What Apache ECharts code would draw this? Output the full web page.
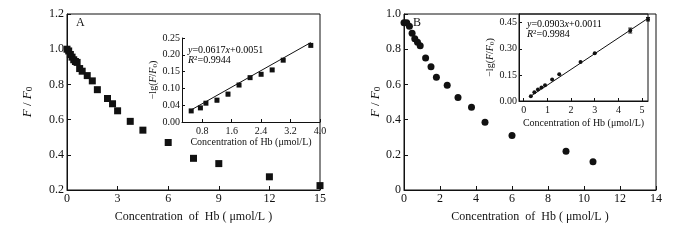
<!DOCTYPE html>
<html>
<head>
<meta charset="utf-8">
<script src="https://cdn.jsdelivr.net/npm/echarts@6/dist/echarts.min.js"></script>
<style>
  html, body { margin: 0; padding: 0; background: #fff; }
  #chart { width: 676px; height: 240px; }
</style>
</head>
<body>
<div id="chart"></div>
<script>
// panel A: quenching curve + linear inset
const concA = [0, 0.1, 0.2, 0.3, 0.4, 0.5, 0.6, 0.75, 0.9, 1.2, 1.5, 1.8, 2.4, 2.7, 3.0, 3.75, 4.5, 6, 7.5, 9, 12, 15];
const ratioA = [1.0, 0.99, 0.97, 0.955, 0.94, 0.93, 0.925, 0.89, 0.875, 0.85, 0.82, 0.77, 0.72, 0.69, 0.65, 0.59, 0.54, 0.47, 0.38, 0.35, 0.275, 0.225];
const insetConcA = [0.5, 0.75, 0.9, 1.2, 1.5, 1.8, 2.1, 2.4, 2.7, 3.0, 3.75];
const insetLgA = [0.033, 0.042, 0.056, 0.065, 0.083, 0.110, 0.132, 0.142, 0.155, 0.184, 0.228];
const insetErrA = [0, 0.003, 0, 0.005, 0.005, 0, 0, 0, 0.004, 0, 0];
const fitA = { slope: 0.0617, intercept: 0.0051, from: 0.5, to: 3.75 };

// panel B
const concB = [0, 0.15, 0.3, 0.45, 0.6, 0.75, 0.9, 1.2, 1.5, 1.8, 2.4, 3.0, 3.75, 4.5, 6, 9, 10.5];
const ratioB = [0.95, 0.95, 0.93, 0.89, 0.86, 0.84, 0.82, 0.75, 0.70, 0.64, 0.595, 0.525, 0.47, 0.385, 0.31, 0.22, 0.16];
const insetConcB = [0.3, 0.45, 0.6, 0.75, 0.9, 1.2, 1.5, 2.4, 3.0, 4.5, 5.25];
const insetLgB = [0.027, 0.05, 0.066, 0.078, 0.09, 0.123, 0.154, 0.224, 0.275, 0.405, 0.47];
const insetErrB = [0, 0, 0, 0, 0, 0, 0, 0, 0, 0.014, 0.01];
const fitB = { slope: 0.0903, intercept: 0.0011, from: 0.3, to: 5.25 };

// tick labels
const insetTicksXA = [0.8, 1.6, 2.4, 3.2, 4.0];
const insetTicksYA = [0, 0.05, 0.10, 0.15, 0.20, 0.25];
const insetLabelsYA = ['0.00', '0.04', '0.10', '0.15', '0.20', '0.25'];
const insetTicksXB = [0, 1, 2, 3, 4, 5];
const insetTicksYB = [0, 0.15, 0.30, 0.45];

const FONT = 'Liberation Serif';
const INK = '#111';

const pairs = (xs, ys) => xs.map((x, i) => [x, ys[i]]);
const fitLine = (f) => [[f.from, f.slope * f.from + f.intercept], [f.to, f.slope * f.to + f.intercept]];
const errData = (xs, ys, es) => xs.map((x, i) => [x, ys[i] - es[i], ys[i] + es[i]]).filter((d, i) => es[i] > 0);

const chart = echarts.init(document.getElementById('chart'));

function xAxis(gi, opt, size, isInset) {
  return Object.assign({
    type: 'value', gridIndex: gi,
    nameLocation: 'middle',
    nameTextStyle: { fontFamily: FONT, fontSize: size, color: INK },
    axisLine: { show: true, onZero: false, lineStyle: { color: INK, width: 1 } },
    axisTick: { show: true, inside: true, length: isInset ? 3 : 4, lineStyle: { color: INK } },
    axisLabel: { fontFamily: FONT, fontSize: size, color: INK, margin: 3 },
    splitLine: { show: false }
  }, opt);
}

function yAxis(gi, opt, size, isInset) {
  return Object.assign({
    type: 'value', gridIndex: gi,
    nameLocation: 'middle', nameRotate: 90,
    axisLine: { show: true, onZero: false, lineStyle: { color: INK, width: 1 } },
    axisTick: { show: true, inside: true, length: isInset ? 3 : 4, lineStyle: { color: INK } },
    axisLabel: { fontFamily: FONT, fontSize: size, color: INK, margin: isInset ? 2 : 3 },
    splitLine: { show: false }
  }, opt);
}

const ffName = '{i|F}{n| / }{i|F}{s|0}';
const ffRich = (sz) => ({
  i: { fontFamily: FONT, fontStyle: 'italic', fontSize: sz, color: INK },
  n: { fontFamily: FONT, fontSize: sz, color: INK },
  s: { fontFamily: FONT, fontSize: sz * 0.7, color: INK, verticalAlign: 'bottom', padding: [sz * 0.35, 0, 0, 0] },
  p: { fontFamily: FONT, fontSize: sz * 0.7, color: INK, verticalAlign: 'top', padding: [0, 0, sz * 0.35, 0] }
});
const lgName = '{n|\u2212lg(}{i|F}{n|/}{i|F}{s|0}{n|)}';

// small vertical error bars drawn through the axes
function errSeries(xi, yi, data) {
  return {
    type: 'custom', xAxisIndex: xi, yAxisIndex: yi, data: data,
    renderItem: (params, api) => {
      const lo = api.coord([api.value(0), api.value(1)]);
      const hi = api.coord([api.value(0), api.value(2)]);
      return {
        type: 'group', children: [
          { type: 'line', shape: { x1: lo[0], y1: lo[1], x2: hi[0], y2: hi[1] }, style: { stroke: INK, lineWidth: 1 } },
          { type: 'line', shape: { x1: lo[0] - 2, y1: lo[1], x2: lo[0] + 2, y2: lo[1] }, style: { stroke: INK, lineWidth: 1 } },
          { type: 'line', shape: { x1: hi[0] - 2, y1: hi[1], x2: hi[0] + 2, y2: hi[1] }, style: { stroke: INK, lineWidth: 1 } }
        ]
      };
    }
  };
}

const option = {
  animation: false,
  backgroundColor: '#fff',
  grid: [
    { left: 67, top: 14, width: 253, height: 176, show: true, borderColor: INK, borderWidth: 1 },
    { left: 182, top: 38, width: 138, height: 84 },
    { left: 404, top: 14, width: 252, height: 176, show: true, borderColor: INK, borderWidth: 1 },
    { left: 519, top: 14, width: 129, height: 87, show: true, borderColor: INK, borderWidth: 1 }
  ],
  xAxis: [
    xAxis(0, { min: 0, max: 15, interval: 3, name: 'Concentration  of  Hb ( \u03bcmol/L )', nameGap: 21 }, 12, false),
    xAxis(1, {
      min: 0.25, max: 4.0, name: 'Concentration of Hb (\u03bcmol/L)', nameGap: 15,
      axisLabel: { fontFamily: FONT, fontSize: 10, color: INK, margin: 4, customValues: insetTicksXA, formatter: v => v.toFixed(1) },
      axisTick: { show: true, inside: true, length: 3, lineStyle: { color: INK }, customValues: insetTicksXA }
    }, 10, true),
    xAxis(2, { min: 0, max: 14, interval: 2, name: 'Concentration  of  Hb ( \u03bcmol/L )', nameGap: 21 }, 12, false),
    xAxis(3, {
      min: -0.2, max: 5.25, name: 'Concentration of Hb (\u03bcmol/L)', nameGap: 17,
      axisLabel: { fontFamily: FONT, fontSize: 10, color: INK, margin: 4, customValues: insetTicksXB, formatter: v => String(v) },
      axisTick: { show: true, inside: true, length: 3, lineStyle: { color: INK }, customValues: insetTicksXB }
    }, 10, true)
  ],
  yAxis: [
    yAxis(0, {
      min: 0.2, max: 1.2, interval: 0.2, name: ffName, nameGap: 33,
      nameTextStyle: { rich: ffRich(13) },
      axisLabel: { fontFamily: FONT, fontSize: 12, color: INK, margin: 3, formatter: v => v.toFixed(1) }
    }, 12, false),
    yAxis(1, {
      min: 0, max: 0.25, name: lgName, nameGap: 12,
      nameTextStyle: { rich: ffRich(10) },
      axisLabel: { fontFamily: FONT, fontSize: 10, color: INK, margin: 2, customValues: insetTicksYA,
        formatter: v => insetLabelsYA[insetTicksYA.findIndex(t => Math.abs(t - v) < 1e-6)] },
      axisTick: { show: true, inside: true, length: 3, lineStyle: { color: INK }, customValues: insetTicksYA }
    }, 10, true),
    yAxis(2, {
      min: 0, max: 1.0, interval: 0.2, name: ffName, nameGap: 21,
      nameTextStyle: { rich: ffRich(13) },
      axisLabel: { fontFamily: FONT, fontSize: 12, color: INK, margin: 3, formatter: v => v === 0 ? '0' : v.toFixed(1) }
    }, 12, false),
    yAxis(3, {
      min: 0, max: 0.5, name: lgName, nameGap: 9,
      nameTextStyle: { rich: ffRich(10) },
      axisLabel: { fontFamily: FONT, fontSize: 10, color: INK, margin: 2, customValues: insetTicksYB, formatter: v => v.toFixed(2) },
      axisTick: { show: true, inside: true, length: 3, lineStyle: { color: INK }, customValues: insetTicksYB }
    }, 10, true)
  ],
  series: [
    { type: 'scatter', xAxisIndex: 0, yAxisIndex: 0, data: pairs(concA, ratioA), symbol: 'rect', symbolSize: 7, itemStyle: { color: INK, opacity: 1 } },
    { type: 'line', xAxisIndex: 1, yAxisIndex: 1, data: fitLine(fitA), showSymbol: false, lineStyle: { color: INK, width: 1 } },
    errSeries(1, 1, errData(insetConcA, insetLgA, insetErrA)),
    { type: 'scatter', xAxisIndex: 1, yAxisIndex: 1, data: pairs(insetConcA, insetLgA), symbol: 'rect', symbolSize: 5, itemStyle: { color: INK, opacity: 1 } },
    { type: 'scatter', xAxisIndex: 2, yAxisIndex: 2, data: pairs(concB, ratioB), symbol: 'circle', symbolSize: 7, itemStyle: { color: INK, opacity: 1 } },
    { type: 'line', xAxisIndex: 3, yAxisIndex: 3, data: fitLine(fitB), showSymbol: false, lineStyle: { color: INK, width: 1 } },
    errSeries(3, 3, errData(insetConcB, insetLgB, insetErrB)),
    { type: 'scatter', xAxisIndex: 3, yAxisIndex: 3, data: pairs(insetConcB, insetLgB), symbol: 'circle', symbolSize: 4, itemStyle: { color: INK, opacity: 1 } }
  ],
  graphic: [
    { type: 'text', left: 76, top: 17, style: { text: 'A', font: '12px "Liberation Serif"', fill: INK } },
    { type: 'text', left: 413, top: 17, style: { text: 'B', font: '12px "Liberation Serif"', fill: INK } },
    { type: 'text', left: 188, top: 45, style: {
      text: '{i|y}{n|=0.0617}{i|x}{n|+0.0051}\n{i|R}{p|2}{n|=0.9944}',
      rich: ffRich(10), lineHeight: 10 } },
    { type: 'text', left: 527, top: 19, style: {
      text: '{i|y}{n|=0.0903}{i|x}{n|+0.0011}\n{i|R}{p|2}{n|=0.9984}',
      rich: ffRich(10), lineHeight: 10 } }
  ]
};

chart.setOption(option);
</script>
</body>
</html>
